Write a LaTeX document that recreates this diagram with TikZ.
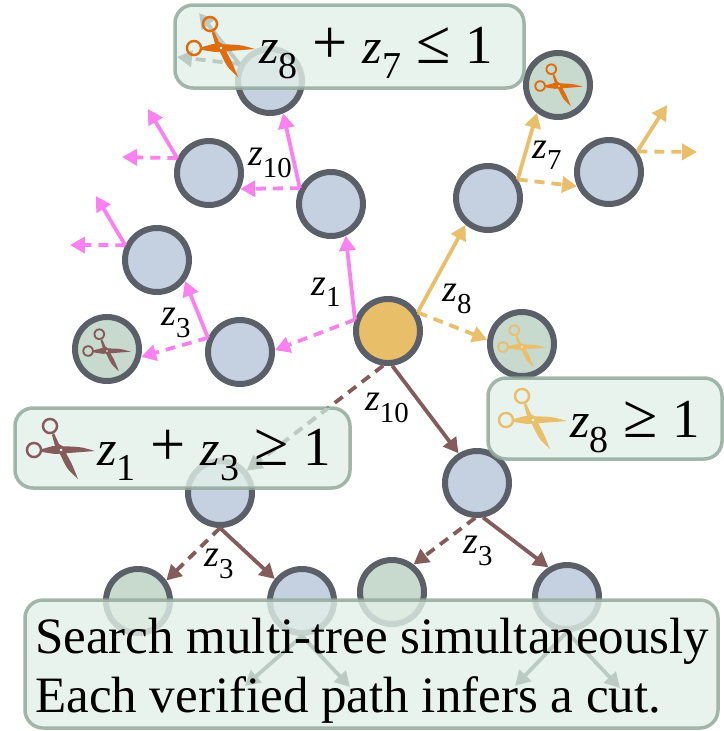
\documentclass[tikz,border=0pt]{standalone}
\usepackage{fontspec}
\setmainfont{Liberation Serif}
\usetikzlibrary{arrows.meta}
\definecolor{ring}{HTML}{5A5F68}
\definecolor{nodeblue}{HTML}{C5D0E0}
\definecolor{nodegreen}{HTML}{C8DACE}
\definecolor{rootfill}{HTML}{E8BE68}
\definecolor{pinkc}{HTML}{FB80F0}
\definecolor{yellowc}{HTML}{E9BF6B}
\definecolor{brownc}{HTML}{855C5C}
\definecolor{orangec}{HTML}{E06C10}
\definecolor{ghost}{HTML}{BCCAC4}
\definecolor{boxfill}{HTML}{E3F0E9}
\definecolor{boxline}{HTML}{93AA9C}
\newcommand\zv[1]{\textit{z}\raisebox{-.3em}{\scalebox{.76}{#1}}}
\newcommand\sy[1]{\kern.3em\scalebox{1.25}{#1}\kern.3em}
\newcommand\bigone{\scalebox{1.1}{1}}
\tikzset{
  x=1pt,y=-1pt,
  tn/.style={circle,draw=ring,line width=6pt,minimum size=64pt,inner sep=0pt,outer sep=auto,fill=nodeblue},
  cutn/.style={tn,fill=nodegreen},
  rootn/.style={tn,fill=rootfill},
  arr/.style={line width=3.8pt,-{Triangle[length=15pt,width=16pt]}},
  dasharr/.style={arr,dash pattern=on 10pt off 7pt},
  cutbox/.style={draw=boxline,line width=3.5pt,fill=boxfill,rounded corners=18pt,fill opacity=.8,draw opacity=.85,inner sep=0pt,outer sep=0pt},
  lab/.style={font=\fontsize{38}{38}\selectfont,inner sep=0pt},
  big/.style={font=\fontsize{50}{50}\selectfont,inner sep=0pt,anchor=base west},
  para/.style={font=\fontsize{51}{51}\selectfont,inner sep=0pt,anchor=base west},
  pics/scissors/.style={code={
    \fill[#1,even odd rule] (-11,-24) circle (8.3) (-11,-24) circle (5.8)
                            (-27,0) circle (8.3) (-27,0) circle (5.8);
    \fill[#1] (-19,-1) -- (-8,-4) -- (9,-3.5) .. controls (20,-3) .. (34,1) -- (8,3) -- (-6,4) -- (-19,2) -- cycle;
    \fill[#1] (-7,-17) -- (-2,-6) -- (3,-3) -- (6,5) .. controls (11,14) .. (17,29) .. controls (6,19) .. (0,6) -- (-6,-4) -- (-9,-15) -- cycle;
    \fill[white] (0,0) circle (1.4);
  }}
}
\begin{document}
\begin{tikzpicture}
\useasboundingbox (0,0) rectangle (723,731);
% nodes
\node[rootn] (root) at (388,331) {};
\node[tn] (n1) at (331,204) {};
\node[tn] (n2) at (270,81) {};
\node[tn] (n3) at (209,173) {};
\node[tn] (n4) at (157,260) {};
\node[tn] (n5) at (240,352) {};
\node[cutn] (n6) at (107,349) {};
\node[tn] (n7) at (488,198) {};
\node[cutn] (n8) at (558,85) {};
\node[tn] (n9) at (609,172) {};
\node[cutn] (n10) at (522,344) {};
\node[tn] (n11) at (220,493) {};
\node[tn] (n12) at (477,483) {};
\node[cutn] (n13) at (138,601) {};
\node[tn] (n14) at (302,601) {};
\node[cutn] (n15) at (392,592) {};
\node[tn] (n16) at (567,597) {};
% free ends
\coordinate (f3a) at (148,109);
\coordinate (f3b) at (122,157);
\coordinate (f4a) at (96,196);
\coordinate (f4b) at (70,245);
\coordinate (f9a) at (667,105);
\coordinate (f9b) at (697,152);
\coordinate (f2a) at (199,13);
\coordinate (f2b) at (177,57);
\coordinate (f14a) at (245,686);
\coordinate (f14b) at (350,687);
\coordinate (f16a) at (515,686);
\coordinate (f16b) at (620,688);
% pink
\draw[arr,pinkc] (root.161) -- (n1.-65);
\draw[dasharr,pinkc] (root.161) -- (n5.3);
\draw[arr,pinkc] (n1.153) -- (n2.-68);
\draw[dasharr,pinkc] (n1.153) -- (n3.-27);
\draw[arr,pinkc] (n3.155) -- (f3a);
\draw[dasharr,pinkc] (n3.155) -- (f3b);
\draw[arr,pinkc] (n5.156) -- (n4.-37);
\draw[dasharr,pinkc] (n5.156) -- (n6.-13);
\draw[arr,pinkc] (n4.155) -- (f4a);
\draw[dasharr,pinkc] (n4.155) -- (f4b);
% yellow
\draw[arr,yellowc] (root.32) -- (n7.-130);
\draw[dasharr,yellowc] (root.32) -- (n10.173);
\draw[arr,yellowc] (n7.32) -- (n8.-127);
\draw[dasharr,yellowc] (n7.32) -- (n9.-156);
\draw[arr,yellowc] (n9.36) -- (f9a);
\draw[dasharr,yellowc] (n9.36) -- (f9b);
% brown
\draw[dasharr,brownc] (root.-98) -- (n11.40);
\draw[arr,brownc] (root.-83) -- (n12.122);
\draw[dasharr,brownc] (n11.-90) -- (n13.36);
\draw[arr,brownc] (n11.-90) -- (n14.141);
\draw[dasharr,brownc] (n12.-93) -- (n15.52);
\draw[arr,brownc] (n12.-80) -- (n16.122);
% boxes
\node[cutbox,minimum width=349pt,minimum height=83pt] (b1) at (349.5,46.5) {};
\node[cutbox,minimum width=335pt,minimum height=80pt] (b2) at (182.5,448) {};
\node[cutbox,minimum width=234pt,minimum height=81pt] (b3) at (605,418.5) {};
\node[cutbox,minimum width=693pt,minimum height=128pt] (b4) at (371.5,664) {};
% arrows seen through the boxes
\begin{scope}
\clip (15,408) rectangle (350,488);
\draw[dasharr,ghost] (root.-98) -- (n11.40);
\end{scope}
\draw[arr,ghost] (n2.151) -- (f2a);
\draw[dasharr,ghost] (n2.151) -- (f2b);
\draw[arr,ghost] (n14.-90) -- (f14a);
\draw[arr,ghost] (n14.-90) -- (f14b);
\draw[arr,ghost] (n16.-90) -- (f16a);
\draw[arr,ghost] (n16.-90) -- (f16b);
% scissors
\pic at (221,48) {scissors=orangec};
\pic at (61,450) {scissors=brownc};
\pic at (533,420) {scissors=yellowc};
\pic[scale=.7] at (559,86) {scissors=orangec};
\pic[scale=.7] at (107,351) {scissors=brownc};
\pic[scale=.7] at (522,347) {scissors=yellowc};
% labels
\node[lab] (l1) at (326,292) {\zv{1}};
\node[lab] (l2) at (270,163) {\zv{10}};
\node[lab] (l3) at (176,323) {\zv{3}};
\node[lab] (l4) at (547,155) {\zv{7}};
\node[lab] (l5) at (457,299) {\zv{8}};
\node[lab] (l6) at (387,408) {\zv{10}};
\node[lab] (l7) at (219,564) {\zv{3}};
\node[lab] (l8) at (478,551) {\zv{3}};
% box texts
\node[big] (t1) at (259,63) {\zv{8}\sy{+}\zv{7}\sy{≤}\bigone};
\node[big] (t2) at (97,465) {\zv{1}\sy{+}\zv{3}\sy{≥}\bigone};
\node[big] (t3) at (570,437) {\zv{8}\sy{≥}\bigone};
\node[para] (t4) at (35,653) {Search multi-tree simultaneously};
\node[para] (t5) at (35,712) {Each verified path infers a cut.};
\end{tikzpicture}
\end{document}
